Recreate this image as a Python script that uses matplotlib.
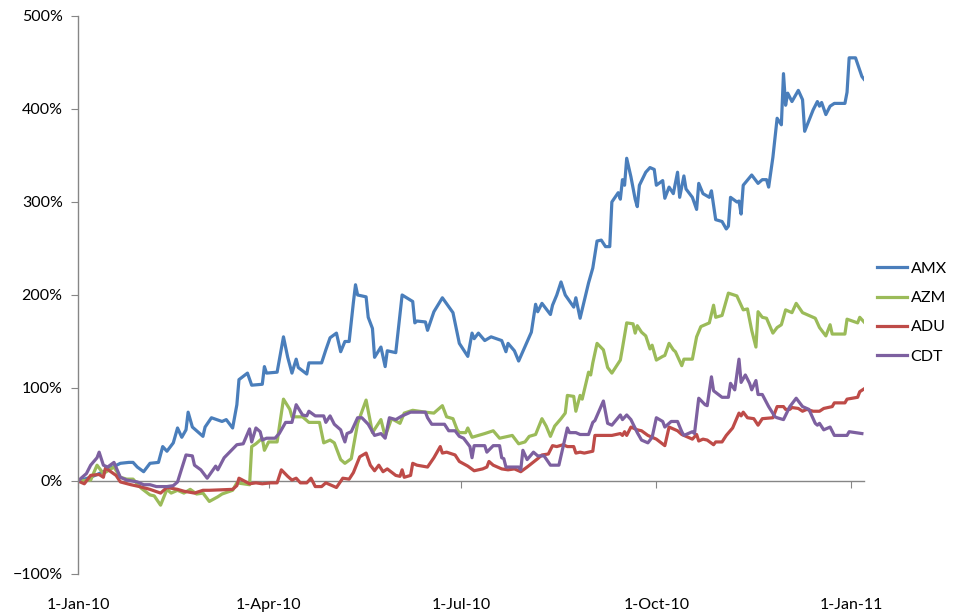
import matplotlib as mpl
mpl.use('Agg')
import matplotlib.pyplot as plt
import matplotlib.dates as mdates
from matplotlib.ticker import PercentFormatter
import numpy as np

plt.rcParams['font.family'] = ['Lato', 'DejaVu Sans']

start = np.datetime64('2010-01-01')

# days since 1-Jan-10 and cumulative return (%) per ticker
amx_days = [0, 6, 12, 20, 24, 26, 28, 31, 34, 38, 40, 42, 45, 47, 49, 51, 52, 54, 59, 60,
            63, 68, 70, 73, 75, 76, 80, 82, 87, 88, 89, 94, 97, 99, 101, 103, 104, 108, 109, 115,
            117, 119, 122, 124, 126, 128, 130, 131, 132, 136, 137, 139, 140, 143, 145, 146, 150, 153, 158, 159,
            160, 164, 165, 168, 172, 177, 180, 184, 186, 187, 189, 192, 195, 200, 202, 203, 206, 208, 214, 216,
            217, 219, 223, 224, 226, 228, 230, 234, 235, 237, 241, 243, 245, 247, 249, 251, 252, 255, 256, 257,
            258, 259, 261, 263, 264, 265, 268, 270, 272, 273, 276, 277, 279, 281, 283, 284, 286, 287, 290, 292,
            293, 295, 298, 299, 301, 304, 306, 307, 308, 311, 312, 313, 314, 318, 321, 323, 325, 326, 328, 330,
            332, 333, 334, 335, 337, 340, 342, 343, 347, 349, 350, 351, 353, 355, 357, 362, 363, 364, 367, 370, 371]
amx_vals = [0, 4, 10, 19, 20, 20, 15, 10, 19, 20, 37, 32, 41, 57, 47, 55, 74, 58, 48, 58,
            68, 64, 66, 57, 82, 109, 116, 103, 104, 123, 116, 117, 155, 133, 116, 131, 122, 115, 127, 127,
            141, 154, 159, 139, 150, 150, 192, 211, 200, 198, 176, 164, 133, 144, 123, 140, 138, 200, 193, 170,
            172, 171, 162, 182, 197, 181, 148, 134, 159, 153, 159, 151, 155, 151, 139, 148, 140, 129, 160, 190,
            182, 191, 179, 189, 200, 214, 200, 187, 197, 175, 213, 229, 258, 259, 252, 252, 300, 310, 303, 324,
            318, 347, 327, 303, 295, 318, 332, 337, 335, 318, 323, 304, 316, 309, 332, 305, 328, 314, 305, 292,
            320, 309, 305, 312, 281, 279, 271, 274, 305, 300, 301, 287, 318, 329, 320, 324, 324, 316, 348, 390,
            383, 438, 404, 417, 408, 420, 410, 376, 399, 408, 403, 407, 394, 403, 406, 406, 418, 455, 455, 435, 432]

azm_days = [0, 6, 9, 12, 17, 20, 23, 26, 30, 34, 36, 39, 42, 44, 47, 50, 53, 56, 59, 62,
            66, 68, 73, 75, 78, 81, 82, 84, 87, 88, 90, 94, 97, 100, 101, 106, 109, 114, 116, 119,
            121, 124, 126, 129, 132, 136, 139, 143, 145, 148, 152, 154, 158, 164, 168, 172, 174, 177, 179, 180,
            183, 184, 186, 192, 196, 199, 205, 208, 211, 213, 216, 219, 221, 223, 225, 228, 230, 231, 234, 235,
            237, 238, 241, 242, 243, 245, 248, 250, 252, 256, 257, 259, 262, 263, 264, 266, 268, 270, 271, 273,
            276, 277, 279, 281, 282, 285, 286, 290, 292, 294, 298, 300, 301, 304, 307, 311, 314, 316, 318, 320,
            321, 323, 325, 328, 330, 332, 334, 337, 339, 342, 345, 348, 350, 353, 355, 356, 362, 363, 368, 369, 371]
azm_vals = [0, 1, 17, 8, 15, 4, 2, 2, -8, -15, -16, -26, -9, -13, -10, -13, -9, -14, -13, -22,
            -17, -14, -10, -2, -3, -4, 37, 40, 46, 33, 42, 42, 88, 77, 69, 69, 63, 63, 41, 44,
            41, 23, 19, 24, 62, 87, 52, 66, 48, 67, 62, 73, 76, 74, 73, 81, 69, 67, 55, 52,
            52, 57, 47, 51, 54, 46, 49, 40, 42, 48, 50, 67, 59, 48, 59, 67, 73, 92, 91, 75,
            92, 88, 117, 114, 127, 148, 141, 122, 116, 130, 143, 170, 169, 159, 167, 160, 156, 142, 146, 130,
            134, 135, 148, 141, 139, 124, 131, 131, 155, 166, 170, 189, 176, 178, 202, 199, 184, 185, 162, 144,
            182, 176, 175, 159, 165, 168, 184, 181, 191, 181, 178, 175, 165, 156, 168, 158, 158, 174, 170, 176, 171]

adu_days = [0, 2, 3, 6, 10, 12, 13, 18, 20, 25, 29, 34, 39, 42, 47, 50, 55, 59, 62, 73,
            75, 76, 81, 84, 87, 91, 94, 96, 99, 101, 103, 105, 108, 110, 112, 115, 117, 120, 122, 125,
            128, 130, 133, 136, 138, 140, 142, 144, 146, 150, 152, 153, 154, 157, 158, 160, 165, 168, 171, 172,
            174, 178, 180, 184, 187, 191, 193, 194, 196, 200, 203, 206, 209, 212, 217, 219, 222, 224, 226, 229,
            231, 234, 235, 237, 239, 243, 244, 248, 252, 256, 257, 258, 259, 261, 264, 266, 269, 273, 277, 279,
            283, 285, 288, 290, 292, 293, 295, 297, 300, 301, 304, 306, 309, 312, 313, 314, 316, 319, 321, 323,
            328, 330, 333, 334, 336, 337, 340, 342, 344, 347, 350, 352, 356, 357, 362, 363, 368, 369, 371]
adu_vals = [0, -2, -3, 6, 7, 4, 14, 6, -1, -4, -6, -9, -13, -7, -9, -11, -13, -10, -10, -9,
            -5, 3, -3, -2, -3, -2, -2, 12, 5, 1, 3, -2, -2, 3, -6, -6, -2, -5, -7, 3,
            2, 9, 26, 30, 17, 11, 17, 10, 13, 6, 5, 12, 4, 6, 19, 17, 15, 25, 37, 30,
            31, 28, 21, 16, 11, 13, 15, 21, 17, 13, 12, 13, 10, 15, 24, 28, 29, 38, 37, 39,
            37, 37, 30, 31, 30, 32, 49, 49, 49, 51, 49, 53, 49, 58, 55, 54, 49, 45, 38, 58,
            54, 50, 47, 45, 50, 43, 45, 44, 39, 42, 42, 49, 57, 73, 70, 74, 68, 67, 60, 67,
            68, 80, 80, 77, 77, 79, 78, 75, 77, 75, 75, 78, 80, 84, 84, 88, 90, 96, 99]

cdt_days = [0, 4, 6, 9, 10, 12, 14, 17, 20, 23, 28, 31, 34, 37, 42, 45, 47, 51, 54, 55,
            58, 61, 65, 66, 69, 75, 78, 81, 82, 84, 86, 87, 89, 93, 95, 98, 101, 103, 106, 108,
            109, 112, 116, 117, 119, 121, 124, 125, 126, 127, 129, 132, 134, 137, 140, 143, 145, 147, 150, 153,
            157, 164, 165, 167, 173, 175, 178, 180, 182, 185, 186, 187, 192, 193, 196, 199, 200, 201, 202, 208,
            209, 210, 212, 215, 217, 220, 223, 227, 228, 231, 232, 235, 237, 241, 243, 244, 248, 250, 252, 256,
            257, 259, 261, 264, 266, 269, 271, 273, 276, 277, 280, 283, 285, 286, 290, 291, 293, 296, 297, 299,
            300, 304, 307, 308, 310, 312, 313, 315, 317, 318, 320, 321, 323, 326, 329, 330, 333, 336, 339, 342,
            345, 348, 349, 350, 352, 355, 357, 363, 364, 370]
cdt_vals = [0, 8, 17, 25, 31, 17, 15, 20, 4, 1, -1, -4, -4, -6, -6, -5, -1, 28, 27, 17,
            12, 3, 16, 12, 25, 39, 40, 56, 42, 57, 53, 44, 46, 46, 51, 63, 63, 82, 71, 70,
            75, 70, 70, 63, 70, 61, 55, 48, 42, 51, 53, 68, 68, 61, 49, 51, 46, 68, 66, 70,
            74, 74, 68, 61, 61, 54, 54, 48, 46, 37, 25, 38, 38, 31, 38, 38, 25, 24, 15, 15,
            12, 33, 23, 31, 27, 27, 17, 17, 27, 57, 52, 52, 50, 50, 63, 65, 86, 62, 60, 71,
            66, 71, 66, 52, 44, 41, 47, 68, 64, 58, 64, 64, 53, 49, 53, 51, 89, 82, 81, 112,
            97, 90, 90, 105, 98, 131, 106, 114, 105, 98, 108, 93, 93, 80, 69, 68, 66, 80, 89, 80,
            77, 62, 60, 62, 55, 58, 49, 49, 53, 51]

series = [('AMX', amx_days, amx_vals, '#4A7EBB'),
          ('AZM', azm_days, azm_vals, '#9BBB59'),
          ('ADU', adu_days, adu_vals, '#BE4B48'),
          ('CDT', cdt_days, cdt_vals, '#7D60A0')]

tick_dates = ['2010-01-01', '2010-04-01', '2010-07-01', '2010-10-01', '2011-01-01']
y_ticks = [-100, 0, 100, 200, 300, 400, 500]

axis_grey = '#868686'

fig = plt.figure(figsize=(9.66, 6.12), dpi=100)
ax = fig.add_axes([0.0807, 0.0621, 0.8137, 0.9118])

for name, days, vals, col in series:
    dates = start + np.array(days).astype('timedelta64[D]')
    ax.plot(dates, vals, color=col, lw=2.3, label=name, solid_joinstyle='round')

ax.set_ylim(-100, 500)
ax.set_xlim(start, start + np.timedelta64(371, 'D'))
ax.set_yticks(y_ticks)
ax.yaxis.set_major_formatter(PercentFormatter(decimals=0))

ax.set_xticks([np.datetime64(d) for d in tick_dates])
ax.xaxis.set_major_formatter(mdates.DateFormatter('%-d-%b-%y'))

for s in ('top', 'right'):
    ax.spines[s].set_visible(False)
ax.spines['left'].set_color(axis_grey)
ax.spines['left'].set_linewidth(1.0)
ax.spines['bottom'].set_position(('data', 0))
ax.spines['bottom'].set_color(axis_grey)
ax.spines['bottom'].set_linewidth(1.0)
ax.spines['bottom'].set_zorder(0.5)

ax.tick_params(axis='y', length=5, color=axis_grey, labelsize=11.5, pad=6)
ax.tick_params(axis='x', length=5, color=axis_grey, labelsize=11.5, pad=79)

fig.legend(loc='center left', bbox_to_anchor=(0.908, 0.489), frameon=False,
           fontsize=11.5, handlelength=1.9, handletextpad=0.2, labelspacing=0.95,
           borderaxespad=0, borderpad=0)

fig.savefig('out.png', dpi=100)
